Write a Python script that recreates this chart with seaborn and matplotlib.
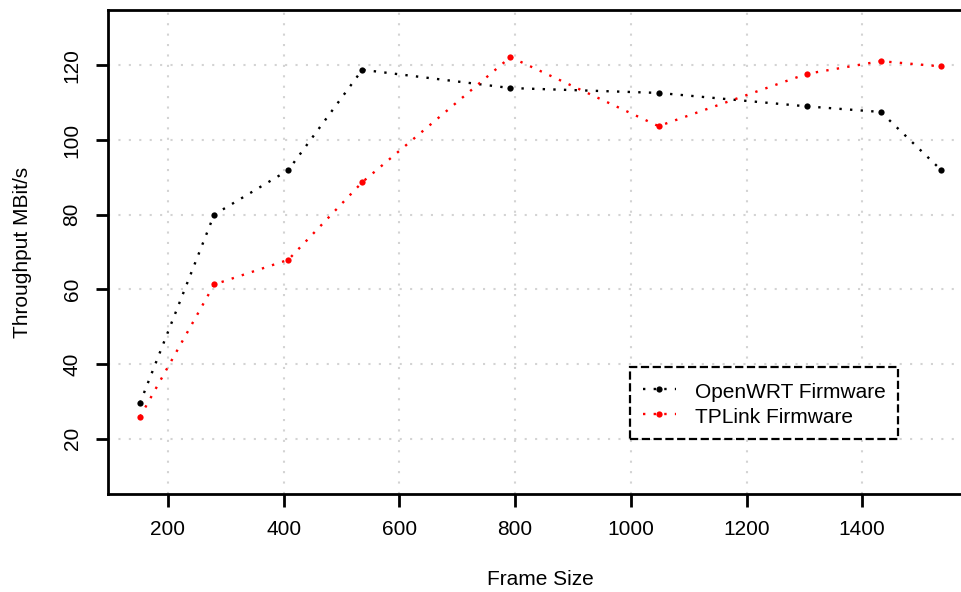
import pandas as pd
import seaborn as sns
import matplotlib
matplotlib.use("Agg")
import matplotlib.pyplot as plt

# frame sizes (bytes) and measured throughput
frame_size = [152, 280, 408, 536, 792, 1048, 1304, 1432, 1536]
openwrt = [29.6, 80.0, 91.9, 118.8, 113.9, 112.6, 109.0, 107.5, 92.0]
tplink = [25.9, 61.3, 67.9, 88.7, 122.2, 103.7, 117.7, 121.1, 119.7]
series_names = ["OpenWRT Firmware", "TPLink Firmware"]
series_colors = ["black", "red"]

x_ticks = [200, 400, 600, 800, 1000, 1200, 1400]
y_ticks = [20, 40, 60, 80, 100, 120]

sns.set_style("white", rc={'text.color': 'black', 'axes.labelcolor': 'black'})
plt.rcParams['font.family'] = ['Liberation Sans', 'DejaVu Sans']

fig = plt.figure(figsize=(9.62, 5.92), dpi=100)
# right edge of the box falls outside the picture, as in the original
ax = fig.add_axes([108 / 962, 98 / 592, 865 / 962, 484 / 592])

for name, vals, col in zip(series_names, [openwrt, tplink], series_colors):
    df = pd.DataFrame({'Frame Size': frame_size, 'Throughput': vals})
    sns.lineplot(data=df, x='Frame Size', y='Throughput', ax=ax, color=col,
                 linestyle=(0, (1, 3.5)), linewidth=1.7, marker='o',
                 markersize=4.5, markeredgewidth=0, label=name, zorder=3)

ax.set_xlim(96.6, 1591.4)
ax.set_ylim(5.2, 134.8)
ax.set_xticks(x_ticks)
ax.set_yticks(y_ticks)
ax.grid(True, color='#D3D3D3', linestyle=(0, (1, 4)), linewidth=1.5)

for s in ax.spines.values():
    s.set_linewidth(2.0)
    s.set_color('black')
ax.tick_params(direction='out', length=9, width=2.0, labelsize=15,
               pad=10, colors='black', left=True, bottom=True)
for lbl in ax.get_yticklabels():
    lbl.set_rotation(90)
    lbl.set_va('center')

ax.set_xlabel('Frame Size', fontsize=15, labelpad=22)
ax.set_ylabel('Throughput MBit/s', fontsize=15, labelpad=22)

leg = ax.legend(loc='lower left', bbox_to_anchor=(0.6035, 0.1136),
                borderaxespad=0, fontsize=15, fancybox=False,
                handlelength=1.6, handleheight=1.2, handletextpad=0.9,
                borderpad=0.6, labelspacing=0.15, framealpha=1)
frame = leg.get_frame()
frame.set_edgecolor('black')
frame.set_linewidth(1.6)
frame.set_linestyle('--')

fig.savefig('out.png', dpi=100)
